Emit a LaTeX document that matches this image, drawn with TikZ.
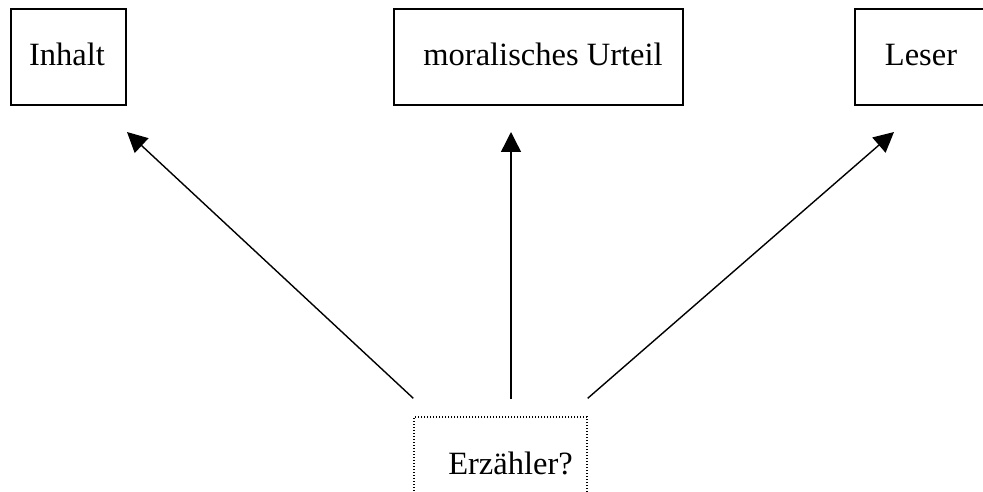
\documentclass[tikz,border=0pt]{standalone}
\usepackage{fontspec}
\setmainfont{Liberation Serif}
\usetikzlibrary{arrows.meta}
\begin{document}
\begin{tikzpicture}[x=1pt,y=-1pt,
  box/.style={draw,line width=1.4pt,rectangle,inner sep=0pt},
  dotbox/.style={draw,line width=1.3pt,rectangle,inner sep=0pt,dash pattern=on 1.4pt off 1.6pt},
  lbl/.style={inner sep=0pt,anchor=base,font=\fontsize{32.5}{38}\selectfont},
  arr/.style={line width=1.4pt,-{Triangle[length=20pt,width=20pt]}}]
\useasboundingbox (0,0) rectangle (983,492);
\clip (0,0) rectangle (983,492);
\node[box,minimum width=115pt,minimum height=96pt] (inhaltbox) at (68.5,57) {};
\node[box,minimum width=289pt,minimum height=96pt] (urteilbox) at (538.5,57) {};
\node[box,minimum width=145pt,minimum height=96pt] (leserbox) at (927.5,57) {};
\node[dotbox,minimum width=173pt,minimum height=103pt] (erzbox) at (500.5,468.5) {};
\node[lbl] (inhalt) at (67,66) {Inhalt};
\node[lbl] (urteil) at (543,66) {moralisches Urteil};
\node[lbl] (leser) at (921,66) {Leser};
\node[lbl] (erz) at (510.5,474) {Erzähler?};
\coordinate (s1) at ([yshift=18pt]erzbox.north west);
\coordinate (s2) at (511,399);
\coordinate (s3) at ([yshift=18pt]erzbox.north east);
\coordinate (t1) at (127,132);
\coordinate (t2) at (511,132);
\coordinate (t3) at (894,132);
\draw[arr] (s1) -- (t1);
\draw[arr] (s2) -- (t2);
\draw[arr] (s3) -- (t3);
\end{tikzpicture}
\end{document}
